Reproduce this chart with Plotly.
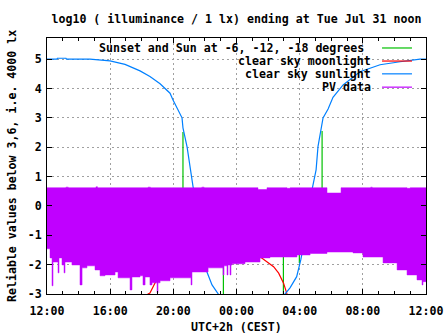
import pandas as pd
import plotly.graph_objects as go

# ---------------- data (hours after Mon Jul 30 12:00 CEST) ----------------
sun_hours = [0.00, 0.63, 0.66, 1.20, 1.23, 2.72, 3.99, 4.94, 5.89, 6.52, 7.16, 7.79, 7.98,
             8.30, 8.55, 8.61, 8.87, 9.06, 9.25, 9.50, 9.82, 10.13, 10.45, 10.83, 11.10,
             13.05, 15.00, 15.07, 15.39, 15.81, 15.98, 16.07, 16.13, 16.80, 17.04, 17.16,
             17.48, 17.80, 18.11, 18.75, 19.82, 21.09, 22.36, 23.62, 24.00]
sun_values = [5.00, 5.00, 5.03, 5.03, 5.00, 5.00, 4.94, 4.82, 4.60, 4.41, 4.16, 3.84, 3.61,
              3.27, 3.00, 2.66, 2.01, 1.33, 0.65, 0.04, -1.16, -2.25, -2.69, -3.00, -3.20,
              -4.50, -3.20, -3.00, -2.79, -2.41, -2.07, -1.84, -1.67, 0.60, 1.23, 2.02,
              3.00, 3.30, 3.70, 4.12, 4.57, 4.81, 4.91, 5.00, 5.00]

moon_hours = [6.30, 6.40, 6.52, 7.03, 7.50, 9.00, 11.00, 12.50, 13.62, 14.35, 14.67,
              14.98, 15.18, 15.30]
moon_values = [-3.20, -3.00, -2.97, -2.42, -2.00, -1.60, -1.40, -1.50, -1.78, -2.07,
               -2.29, -2.63, -2.97, -3.20]

# sunset / sun at -6, -12, -18 degrees / sunrise (impulses from 0)
twilight_hours = [8.61, 9.30, 10.16, 11.17, 14.97, 15.98, 16.75, 17.42]
twilight_values = [2.52, -0.60, -1.94, -4.00, -4.00, -1.94, -0.60, 2.55]

pv_bottom_hours = [0.00, 0.19, 0.32, 0.38, 0.70, 0.76, 0.95, 1.08, 1.14, 1.58, 2.09, 2.22,
                   2.53, 3.04, 3.36, 3.67, 4.31, 4.50, 5.26, 5.38, 5.89, 6.08, 6.21, 6.52,
                   6.65, 6.97, 7.03, 7.16, 7.79, 9.12, 9.18, 10.20, 11.15, 11.21, 11.40,
                   11.46, 11.59, 11.65, 11.72, 12.54, 13.49, 14.12, 15.83, 16.66, 17.73,
                   19.38, 20.01, 21.28, 22.17, 22.80, 23.43, 23.75, 23.81, 24.00]
pv_bottom = [-1.46, -1.77, -2.72, -1.91, -2.28, -1.77, -2.01, -2.28, -1.91, -2.01, -2.69,
             -2.11, -2.04, -2.18, -2.38, -2.35, -2.25, -2.45, -2.86, -2.42, -2.38, -2.69,
             -2.42, -2.69, -2.62, -2.96, -2.62, -2.55, -2.45, -2.69, -2.25, -2.11, -2.35,
             -2.04, -2.35, -2.01, -2.35, -2.01, -1.97, -1.91, -1.77, -1.74, -1.67, -1.62,
             -1.57, -1.60, -1.74, -1.94, -2.18, -2.35, -2.52, -2.69, -2.58, -2.58]

pv_top_hours = [0.00, 1.20, 1.35, 3.10, 3.20, 6.40, 6.55, 9.80, 9.95, 13.36, 13.93, 15.20,
                15.40, 17.73, 18.62, 20.50, 20.60, 22.80, 23.00, 24.00]
pv_top = [0.62, 0.64, 0.62, 0.65, 0.62, 0.64, 0.62, 0.64, 0.62, 0.56, 0.62, 0.60,
          0.62, 0.44, 0.62, 0.64, 0.62, 0.60, 0.62, 0.62]

x_tick_hours = [0, 4, 8, 12, 16, 20, 24]
x_tick_labels = ["12:00", "16:00", "20:00", "00:00", "04:00", "08:00", "12:00"]
y_tick_values = [-3, -2, -1, 0, 1, 2, 3, 4, 5]
y_tick_labels = ["-3", "-2", "-1", "0", "1", "2", "3", "4", "5"]

legend_labels = ["Sunset and Sun at -6, -12, -18 degrees", "clear sky moonlight",
                 "clear sky sunlight", "PV data"]

# ---------------- styling ----------------
START = pd.Timestamp("2018-07-30 12:00")
GREEN, RED, BLUE, PURPLE = "#00c000", "#ff0000", "#0080ff", "#c000ff"
FONT = dict(family="DejaVu Sans Mono", size=11.6, color="black", weight="bold")


def t(hours):
    return [START + pd.Timedelta(hours=h) for h in hours]


imp_x, imp_y = [], []
for h, v in zip(twilight_hours, twilight_values):
    ts = START + pd.Timedelta(hours=h)
    imp_x += [ts, ts, None]
    imp_y += [0, v, None]

fig = go.Figure()
fig.add_trace(go.Scatter(x=imp_x, y=imp_y, mode="lines", line=dict(color=GREEN, width=1.2),
                         name=legend_labels[0], showlegend=False))
fig.add_trace(go.Scatter(x=t(moon_hours), y=moon_values, mode="lines",
                         line=dict(color=RED, width=1.2), name=legend_labels[1], showlegend=False))
fig.add_trace(go.Scatter(x=t(sun_hours), y=sun_values, mode="lines",
                         line=dict(color=BLUE, width=1.2), name=legend_labels[2], showlegend=False))
fig.add_trace(go.Scatter(x=t(pv_bottom_hours), y=pv_bottom, mode="lines",
                         line=dict(color=PURPLE, width=0.5, shape="hv"), showlegend=False,
                         hoverinfo="skip"))
fig.add_trace(go.Scatter(x=t(pv_top_hours), y=pv_top, mode="lines", fill="tonexty",
                         fillcolor=PURPLE, line=dict(color=PURPLE, width=0.5, shape="hv"),
                         name=legend_labels[3], showlegend=False))

grid = dict(showgrid=True, gridcolor="#a0a0a0", griddash="2px,3px", gridwidth=1)
fig.update_xaxes(
    type="date", range=[START, START + pd.Timedelta(hours=24)], automargin=False,
    tickmode="array", tickvals=t(x_tick_hours), ticktext=x_tick_labels,
    ticks="inside", ticklen=5, tickcolor="black", ticklabelstandoff=6,
    minor=dict(ticks="inside", ticklen=3, tickcolor="black", dtick=3600000,
               tick0=START, showgrid=False),
    showline=True, linecolor="black", linewidth=1, mirror="allticks",
    tickfont=FONT, zeroline=False, **grid,
)
fig.update_yaxes(
    range=[-3, 5.72], tickmode="array", tickvals=y_tick_values, ticktext=y_tick_labels,
    automargin=False, ticklabelstandoff=2,
    ticks="inside", ticklen=5, tickcolor="black",
    showline=True, linecolor="black", linewidth=1, mirror="allticks",
    tickfont=FONT, zeroline=False, **grid,
)

# opaque key box (hides grid, not data)
fig.add_shape(type="rect", xref="paper", yref="paper", x0=0.127, x1=0.984, y0=0.785, y1=0.998,
              fillcolor="white", line=dict(width=0), layer="between")

rows_y = [0.961, 0.910, 0.860, 0.808]
rows_x = [0.843, 0.860, 0.860, 0.860]
colors = [GREEN, RED, BLUE, PURPLE]
for lab, yy, xx, c in zip(legend_labels, rows_y, rows_x, colors):
    fig.add_annotation(text=lab, x=xx, y=yy, xref="paper", yref="paper", xanchor="right",
                       yanchor="middle", showarrow=False, font=FONT)
    fig.add_shape(type="line", xref="paper", yref="paper", x0=0.884, x1=0.963, y0=yy, y1=yy,
                  line=dict(color=c, width=1.2), layer="above")

fig.add_annotation(text="Reliable values below 3,6, i.e. 4000 lx", x=-0.0923, y=0.5,
                   xref="paper", yref="paper", textangle=-90, showarrow=False, font=FONT,
                   xanchor="center", yanchor="middle")
fig.add_annotation(text="UTC+2h (CEST)", x=0.5, y=-0.129, xref="paper", yref="paper",
                   showarrow=False, font=FONT, xanchor="center", yanchor="middle")

fig.update_layout(
    width=447, height=335,
    margin=dict(l=47, r=21, t=38, b=41, autoexpand=False),
    paper_bgcolor="white", plot_bgcolor="white",
    title=dict(text="log10 ( illuminance / 1 lx) ending at Tue Jul 31 noon", font=FONT,
               x=0.529, xanchor="center", y=0.943, yanchor="middle"),
    showlegend=False,
)

fig.write_html("out.html")
